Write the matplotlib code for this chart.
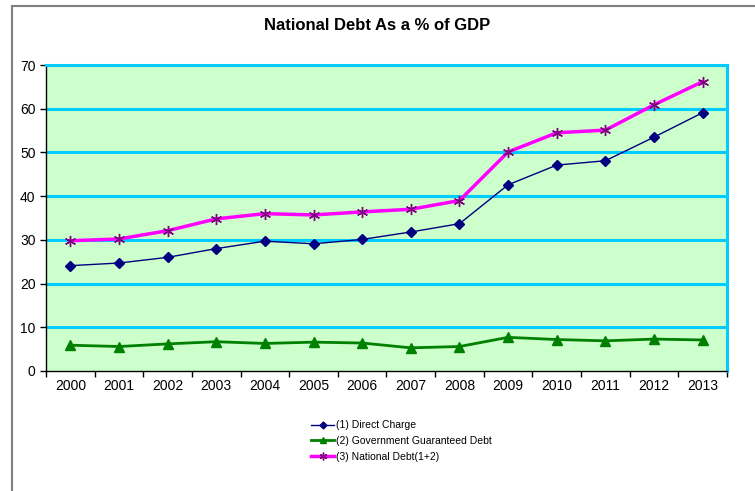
import matplotlib.pyplot as plt
from matplotlib.lines import Line2D
import numpy as np

plt.rcParams['font.family'] = ['Liberation Sans', 'DejaVu Sans']

years = ['2000', '2001', '2002', '2003', '2004', '2005', '2006',
         '2007', '2008', '2009', '2010', '2011', '2012', '2013']
direct_charge = [24.1, 24.7, 26.0, 28.0, 29.7, 29.1, 30.1,
                 31.8, 33.7, 42.6, 47.1, 48.1, 53.5, 59.1]
guaranteed = [5.9, 5.6, 6.2, 6.7, 6.3, 6.6, 6.4,
              5.3, 5.6, 7.7, 7.2, 6.9, 7.3, 7.1]
national_debt = [29.8, 30.2, 32.1, 34.8, 36.0, 35.7, 36.4,
                 37.0, 39.0, 50.1, 54.5, 55.1, 60.9, 66.2]

fig = plt.figure(figsize=(7.55, 4.91), dpi=100)
ax = fig.add_axes([46 / 755, 120 / 491, 681 / 755, 306 / 491])

x = np.arange(len(years))
ax.set_facecolor('#CCFFCC')
for v in range(10, 80, 10):
    ax.axhline(v, color='#00CCFF', lw=2.2, zorder=1)

ax.plot(x, direct_charge, color='#000080', lw=1, marker='D', ms=5,
        label='(1) Direct Charge', zorder=3)
ax.plot(x, guaranteed, color='#008000', lw=2, marker='^', ms=7,
        label='(2) Government Guaranteed Debt', zorder=3)
ax.plot(x, national_debt, color='#FF00FF', lw=2.5, marker=(6, 2, 0), ms=8,
        mec='#800080', mew=1, label='(3) National Debt(1+2)', zorder=3)

ax.set_xlim(-0.5, len(years) - 0.5)
ax.set_ylim(0, 70)
ax.set_yticks(range(0, 80, 10))
ax.set_xticks(x)
ax.set_xticklabels(years)
ax.set_xticks(np.arange(-0.5, len(years), 1), minor=True)
ax.tick_params(axis='x', which='major', length=0, labelsize=10, pad=6)
ax.tick_params(axis='x', which='minor', length=4, width=1, direction='out')
ax.tick_params(axis='y', length=4, width=1, direction='out', labelsize=10)

for side in ['left', 'bottom']:
    ax.spines[side].set_color('black')
    ax.spines[side].set_linewidth(1)
ax.spines['top'].set_color('#00CCFF')
ax.spines['top'].set_linewidth(2.2)
ax.spines['right'].set_color('#00CCFF')
ax.spines['right'].set_linewidth(2.2)

fig.text(0.5, 1 - 25 / 491, 'National Debt As a % of GDP', ha='center', va='center',
         fontsize=12, fontweight='bold')

fig.legend(loc='center left', bbox_to_anchor=(302 / 755, 1 - 441 / 491),
           frameon=False, fontsize=7.5, handlelength=2.2, handletextpad=0.2,
           labelspacing=0.55, markerscale=0.7)

# outer chart frame
fig.add_artist(Line2D([12 / 755, 12 / 755], [0, 1 - 6 / 491],
                      transform=fig.transFigure, color='#808080', lw=1.5))
fig.add_artist(Line2D([12 / 755, 1], [1 - 6 / 491, 1 - 6 / 491],
                      transform=fig.transFigure, color='#808080', lw=1.5))

fig.savefig('out.png', dpi=100)
